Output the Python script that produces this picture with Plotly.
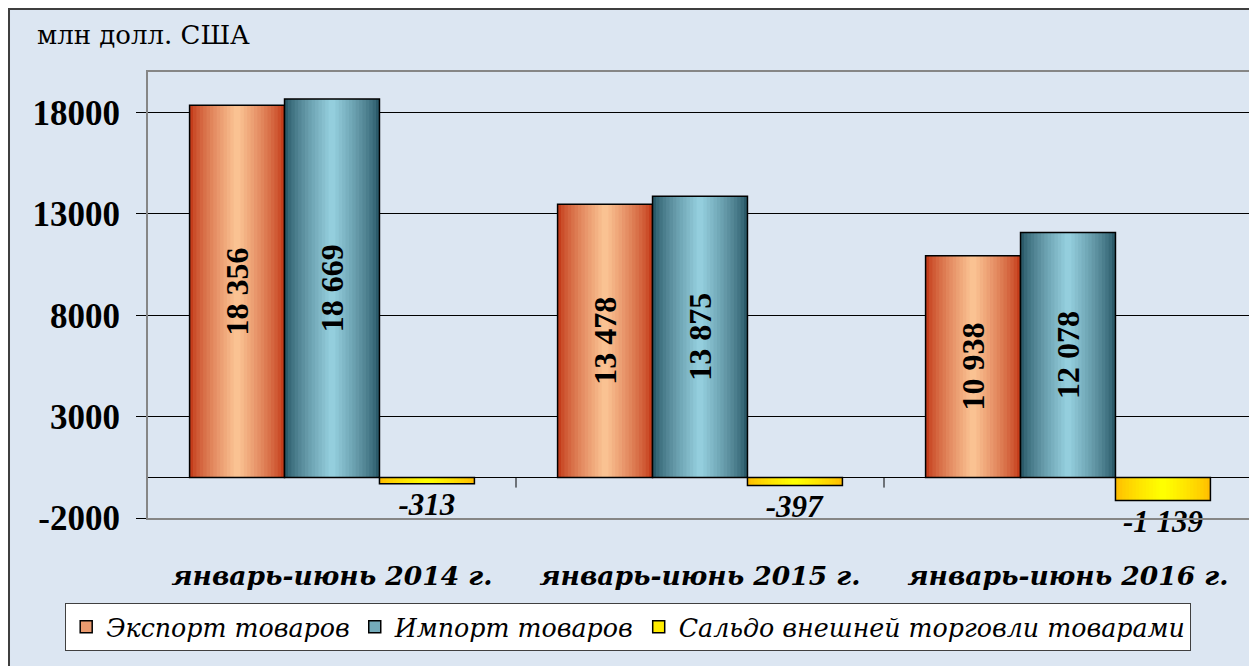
import plotly.graph_objects as go

# data
periods = ["январь-июнь 2014 г.", "январь-июнь 2015 г.", "январь-июнь 2016 г."]
export_vals = [18356, 13478, 10938]
import_vals = [18669, 13875, 12078]
saldo_vals = [-313, -397, -1139]
series_names = ["Экспорт товаров", "Импорт товаров", "Сальдо внешней торговли товарами"]
y_ticks = [-2000, 3000, 8000, 13000, 18000]

FONT = "Liberation Serif"
CYR = "DejaVu Serif"  # Liberation Serif has no cyrillic here
BG = "#DCE6F2"
BAR_W = 0.258


def fmt(v):
    return f"{v:,}".replace(",", " ")


def mix(c1, c2, t):
    a = [int(c1[i:i + 2], 16) for i in (1, 3, 5)]
    b = [int(c2[i:i + 2], 16) for i in (1, 3, 5)]
    return "rgb(%d,%d,%d)" % tuple(round(a[k] + (b[k] - a[k]) * t) for k in range(3))


fig = go.Figure()

# (values, center offset, edge colour, centre colour, label position)
specs = [
    (export_vals, -BAR_W, "#C43D1B", "#FAC292", "inside"),
    (import_vals, 0.0, "#2B5A69", "#94CEDD", "inside"),
    (saldo_vals, BAR_W, "#FFBE00", "#FFFF00", "outside"),
]

# legend-only entries
for (vals, off, edge, centre, pos), name in zip(specs, series_names):
    fig.add_trace(go.Bar(
        x=[None], y=[None], name=name,
        marker=dict(color=mix(edge, centre, 0.7), line=dict(color="black", width=1.5)),
    ))

steps = 14
for vals, off, edge, centre, pos in specs:
    # fake horizontal gradient: nested bars getting narrower and lighter
    for i in range(steps):
        w = BAR_W * (1 - i / steps)
        t = (i / (steps - 1)) ** 0.8
        fig.add_trace(go.Bar(
            x=periods, y=vals, width=w, offset=off - w / 2,
            marker=dict(color=mix(edge, centre, t), line=dict(width=0)),
            showlegend=False, hoverinfo="skip",
        ))
    # outline + value labels
    if pos == "inside":
        txt = dict(textposition="inside", insidetextanchor="middle", textangle=-90,
                   insidetextfont=dict(family=FONT, size=32, color="black", weight="bold"))
    else:
        txt = dict(textposition="outside", textangle=0,
                   outsidetextfont=dict(family=FONT, size=31, color="black",
                                        weight="bold", style="italic"))
    fig.add_trace(go.Bar(
        x=periods, y=vals, width=BAR_W, offset=off - BAR_W / 2,
        marker=dict(color="rgba(0,0,0,0)", line=dict(color="black", width=1.5)),
        text=[fmt(v) for v in vals], constraintext="none", cliponaxis=False,
        showlegend=False, hoverinfo="skip", **txt,
    ))

# outer frame of the chart (page body has an 8px margin, figure sits at 8,8)
fig.add_shape(type="rect", xref="paper", yref="paper", x0=-0.1259, x1=1.0, y0=-0.34, y1=1.141,
              fillcolor=BG, line=dict(color="#3F3F3F", width=2), layer="below")

# small category ticks on the zero line
for b in [0.5, 1.5]:
    fig.add_shape(type="line", xref="x", yref="y", x0=b, x1=b, y0=0, y1=-500,
                  line=dict(color="black", width=1))

fig.add_annotation(text="млн долл. США", xref="paper", yref="paper", x=-0.102, y=1.083,
                   xanchor="left", yanchor="middle", showarrow=False,
                   font=dict(family=CYR, size=26, color="black"))

fig.update_layout(
    width=1249, height=658,
    margin=dict(l=140, r=5, t=64, b=148, autoexpand=False),
    paper_bgcolor="white", plot_bgcolor="rgba(0,0,0,0)",
    barmode="overlay",
    font=dict(family=FONT, color="black"),
    legend=dict(orientation="h", x=-0.075, y=-0.19, xanchor="left", yanchor="top",
                bgcolor="white", bordercolor="#404040", borderwidth=1,
                font=dict(family=CYR, size=25.3, style="italic"), itemclick=False),
    xaxis=dict(type="category", categoryorder="array", categoryarray=periods,
               range=[-0.5, 2.5], showgrid=False, ticks="", showline=True, mirror=True,
               linecolor="#868686", linewidth=2, ticklabelstandoff=33, automargin=False,
               tickfont=dict(family=CYR, size=26.5, weight="bold", style="italic")),
    yaxis=dict(range=[-2000, 20000], tickvals=y_ticks, ticktext=[str(v) for v in y_ticks],
               showgrid=True, gridcolor="black",
               gridwidth=1, zeroline=True, zerolinecolor="black", zerolinewidth=1,
               showline=True, mirror=True, linecolor="#868686", linewidth=2, automargin=False,
               ticks="outside", ticklen=10, tickcolor="black", ticklabelstandoff=9,
               tickfont=dict(family=FONT, size=35, weight="bold")),
)

fig.write_html("out.html")
